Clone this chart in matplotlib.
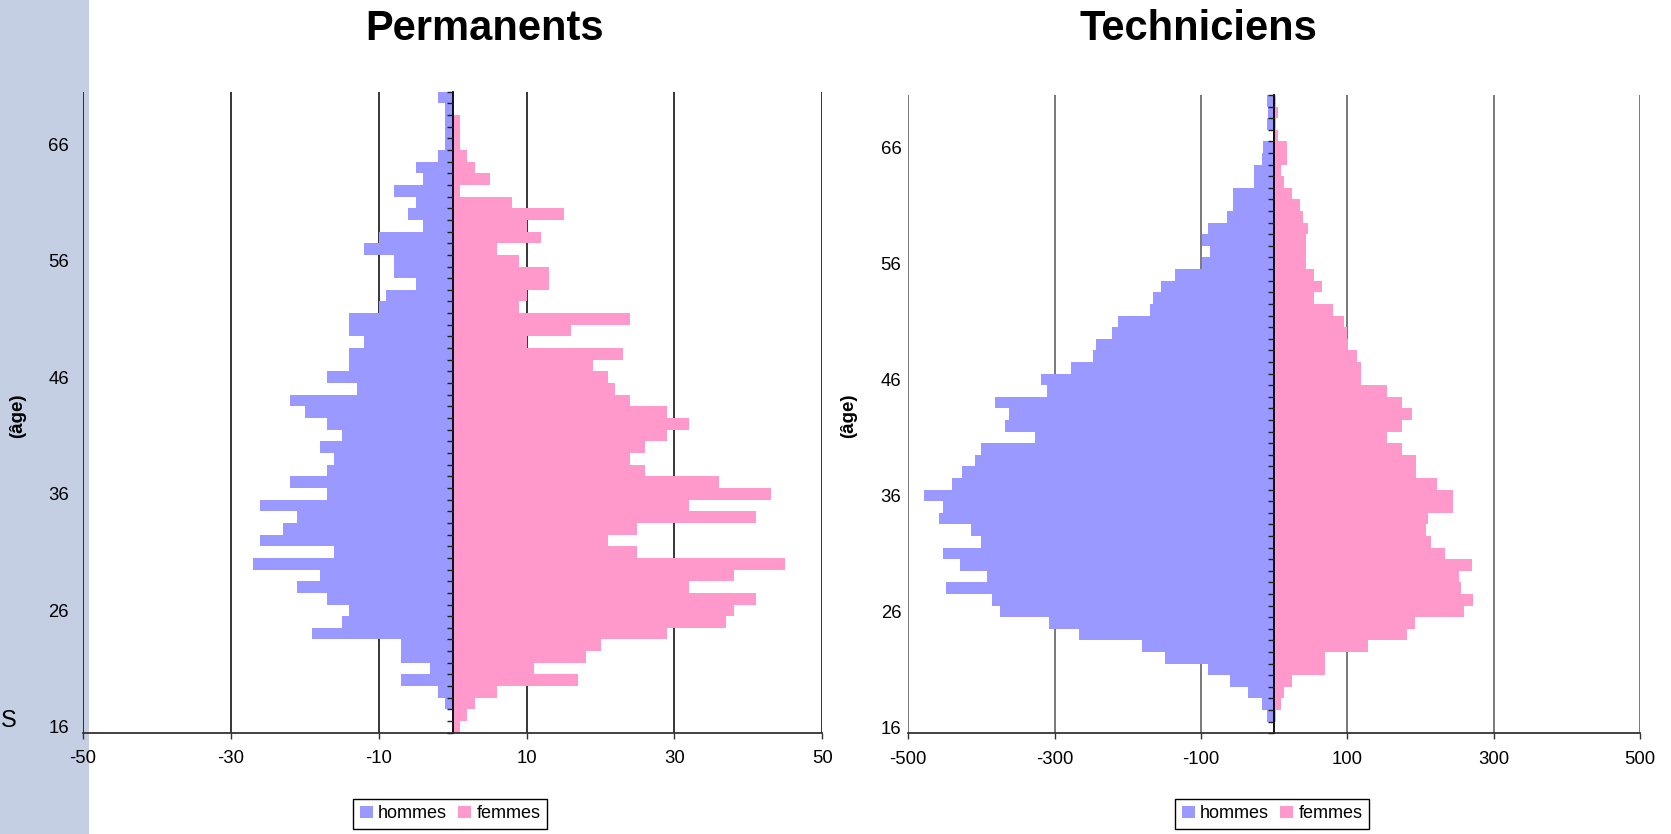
import numpy as np
import matplotlib
matplotlib.use('Agg')
import matplotlib.pyplot as plt
from matplotlib.patches import Rectangle

plt.rcParams['font.family'] = ['Liberation Sans', 'DejaVu Sans']

# Ages, du haut (70 ans) vers le bas (16 ans)
ages = list(range(70, 15, -1))

# Effectifs (même ordre que ages)
perm_hommes = [2, 1, 1, 1, 1, 2, 5, 4, 8, 5, 6, 4, 10, 12, 8, 8, 5, 9, 10, 14,
               14, 12, 14, 14, 17, 13, 22, 20, 17, 15, 18, 16, 17, 22, 17, 26, 21, 23, 26, 16,
               27, 18, 21, 17, 14, 15, 19, 7, 7, 3, 7, 2, 1, 0, 0]
perm_femmes = [0, 0, 1, 1, 1, 2, 3, 5, 1, 8, 15, 10, 12, 6, 9, 13, 13, 10, 9, 24,
               16, 10, 23, 19, 21, 22, 24, 29, 32, 29, 26, 24, 26, 36, 43, 32, 41, 25, 21, 25,
               45, 38, 32, 41, 38, 37, 29, 20, 18, 11, 17, 6, 3, 2, 1]
tech_hommes = [10, 8, 10, 2, 15, 17, 28, 27, 56, 56, 65, 91, 98, 88, 98, 136, 155, 165, 170, 213,
               222, 244, 248, 277, 318, 311, 382, 362, 368, 327, 400, 409, 426, 440, 478, 452, 458, 414, 400, 452,
               430, 392, 449, 385, 375, 308, 266, 181, 149, 91, 60, 36, 17, 10, 0]
tech_femmes = [3, 5, 3, 5, 17, 17, 10, 14, 24, 36, 39, 46, 43, 43, 43, 55, 65, 55, 81, 96,
               99, 101, 113, 119, 119, 154, 175, 189, 175, 154, 175, 194, 194, 223, 244, 244, 211, 208, 215, 233,
               271, 253, 256, 272, 259, 192, 182, 129, 70, 70, 24, 14, 10, 3, 0]

age_ticks = [16, 26, 36, 46, 56, 66]
perm_xticks = [-50, -30, -10, 10, 30, 50]
tech_xticks = [-500, -300, -100, 100, 300, 500]

color_h = '#9999ff'
color_f = '#ff99cc'

W, H = 1671, 834
fig = plt.figure(figsize=(W / 100, H / 100), dpi=100)

# bande bleue à gauche (bord de diapositive)
fig.patches.append(Rectangle((0, 0), 89 / W, 1, transform=fig.transFigure,
                             facecolor='#c5cfe3', edgecolor='none', zorder=-1))


def pyramide(rect, hommes, femmes, xticks, grid_color, ypad, leg_x):
    ax = fig.add_axes(rect)
    ax.set_facecolor('none')
    ax.barh(ages, [-h for h in hommes], height=1.0, color=color_h, label='hommes', zorder=2)
    ax.barh(ages, femmes, height=1.0, color=color_f, label='femmes', zorder=2)
    ax.set_xlim(xticks[0], xticks[-1])
    ax.set_ylim(15.5, 70.5)
    ax.vlines(xticks, 15.5, 70.5, colors=grid_color, linewidth=1.1, zorder=1)
    ax.set_axisbelow(False)

    ax.spines['top'].set_visible(False)
    ax.spines['left'].set_visible(False)
    ax.spines['right'].set_position(('data', 0))
    ax.spines['right'].set_color('black')
    ax.spines['right'].set_linewidth(1.3)
    ax.spines['bottom'].set_color('#333333')
    ax.spines['bottom'].set_linewidth(1.3)

    ax.set_xticks(xticks)
    ax.set_xticklabels([str(t) for t in xticks])
    ax.set_yticks(age_ticks)
    ax.set_yticks(np.arange(15.5, 71, 1), minor=True)
    ax.tick_params(axis='y', which='major', left=True, right=False, length=0,
                   pad=ypad, labelsize=13.3)
    ax.tick_params(axis='y', which='minor', left=False, right=True, direction='in',
                   length=4, width=1, color='#222222')
    ax.tick_params(axis='x', which='major', direction='out', length=4.5, width=1,
                   pad=8, labelsize=13.3, color='#333333')

    ax.legend(loc='upper center', bbox_to_anchor=(leg_x, 1 - 799 / H),
              bbox_transform=fig.transFigure, ncol=2, fontsize=13, frameon=True,
              fancybox=False, edgecolor='black', framealpha=1, borderpad=0.35,
              borderaxespad=0, handlelength=0.72, handleheight=0.72,
              handletextpad=0.3, columnspacing=0.6)
    ax.get_legend().get_frame().set_linewidth(1.0)
    return ax


ax1 = pyramide([83 / W, 1 - 732.7 / H, 739.3 / W, 641 / H],
               perm_hommes, perm_femmes, perm_xticks, 'black', 10, 450 / W)
ax2 = pyramide([908.3 / W, 1 - 733.3 / H, 731.6 / W, 638.3 / H],
               tech_hommes, tech_femmes, tech_xticks, '#555555', 5, 1272 / W)

# titres et libellés
fig.text(485 / W, 1 - 29 / H, 'Permanents', fontsize=30, fontweight='bold',
         ha='center', va='center')
fig.text(1198 / W, 1 - 29 / H, 'Techniciens', fontsize=30, fontweight='bold',
         ha='center', va='center')
fig.text(18 / W, 1 - 416 / H, '(âge)', rotation=90, fontsize=13.5, fontweight='bold',
         ha='center', va='center')
fig.text(849 / W, 1 - 416 / H, '(âge)', rotation=90, fontsize=13.5, fontweight='bold',
         ha='center', va='center')
fig.text(1 / W, 1 - 721 / H, 'S', fontsize=17, ha='left', va='center')

fig.savefig('out.png', dpi=100)
